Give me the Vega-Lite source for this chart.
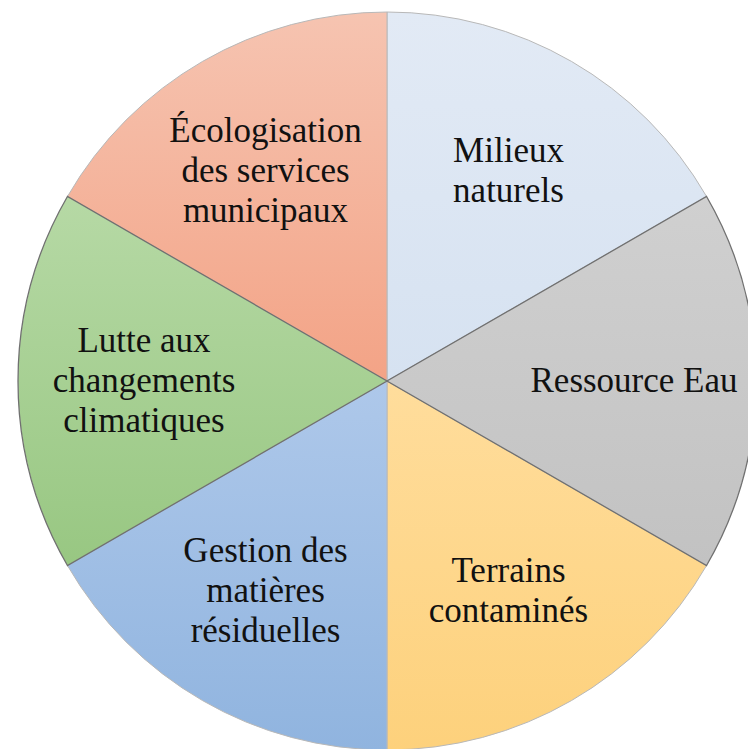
{
  "$schema": "https://vega.github.io/schema/vega-lite/v6.json",
  "width": 774,
  "height": 762,
  "padding": 0,
  "autosize": {"type": "none"},
  "background": "white",
  "config": {"view": {"stroke": null}},
  "data": {
    "values": [
      {"cat": "Milieux naturels", "label": "Milieux\nnaturels", "lines": 2, "value": 1, "order": 1},
      {"cat": "Ressource Eau", "label": "Ressource Eau", "lines": 1, "value": 1, "order": 2},
      {"cat": "Terrains contaminés", "label": "Terrains\ncontaminés", "lines": 2, "value": 1, "order": 3},
      {"cat": "Gestion des matières résiduelles", "label": "Gestion des\nmatières\nrésiduelles", "lines": 3, "value": 1, "order": 4},
      {"cat": "Lutte aux changements climatiques", "label": "Lutte aux\nchangements\nclimatiques", "lines": 3, "value": 1, "order": 5},
      {"cat": "Écologisation des services municipaux", "label": "Écologisation\ndes services\nmunicipaux", "lines": 3, "value": 1, "order": 6}
    ]
  },
  "layer": [
    {
      "transform": [
        {"stack": "value", "groupby": [], "sort": [{"field": "order", "order": "ascending"}], "as": ["v0", "v1"]},
        {"filter": "datum.order == 1"}
      ],
      "mark": {"type": "arc", "outerRadius": 369, "stroke": "#b8b8b8", "strokeWidth": 1,
        "color": {"gradient": "linear", "x1": 0, "y1": 0, "x2": 0, "y2": 1, "stops": [{"offset": 0, "color": "#e2eaf5"}, {"offset": 1, "color": "#d6e2f1"}]}},
      "encoding": {
        "theta": {"field": "v0", "type": "quantitative", "scale": {"domain": [0, 6]}},
        "theta2": {"field": "v1"}
      }
    },
    {
      "transform": [
        {"stack": "value", "groupby": [], "sort": [{"field": "order", "order": "ascending"}], "as": ["v0", "v1"]},
        {"filter": "datum.order == 3"}
      ],
      "mark": {"type": "arc", "outerRadius": 369, "stroke": "#b8b8b8", "strokeWidth": 1,
        "color": {"gradient": "linear", "x1": 0, "y1": 0, "x2": 0, "y2": 1, "stops": [{"offset": 0, "color": "#ffdd9c"}, {"offset": 1, "color": "#fdd17c"}]}},
      "encoding": {
        "theta": {"field": "v0", "type": "quantitative", "scale": {"domain": [0, 6]}},
        "theta2": {"field": "v1"}
      }
    },
    {
      "transform": [
        {"stack": "value", "groupby": [], "sort": [{"field": "order", "order": "ascending"}], "as": ["v0", "v1"]},
        {"filter": "datum.order == 4"}
      ],
      "mark": {"type": "arc", "outerRadius": 369, "stroke": "#b8b8b8", "strokeWidth": 1,
        "color": {"gradient": "linear", "x1": 0, "y1": 0, "x2": 0, "y2": 1, "stops": [{"offset": 0, "color": "#aec8ea"}, {"offset": 1, "color": "#90b4df"}]}},
      "encoding": {
        "theta": {"field": "v0", "type": "quantitative", "scale": {"domain": [0, 6]}},
        "theta2": {"field": "v1"}
      }
    },
    {
      "transform": [
        {"stack": "value", "groupby": [], "sort": [{"field": "order", "order": "ascending"}], "as": ["v0", "v1"]},
        {"filter": "datum.order == 6"}
      ],
      "mark": {"type": "arc", "outerRadius": 369, "stroke": "#b8b8b8", "strokeWidth": 1,
        "color": {"gradient": "linear", "x1": 0, "y1": 0, "x2": 0, "y2": 1, "stops": [{"offset": 0, "color": "#f6c4b1"}, {"offset": 1, "color": "#f3a386"}]}},
      "encoding": {
        "theta": {"field": "v0", "type": "quantitative", "scale": {"domain": [0, 6]}},
        "theta2": {"field": "v1"}
      }
    },
    {
      "transform": [
        {"stack": "value", "groupby": [], "sort": [{"field": "order", "order": "ascending"}], "as": ["v0", "v1"]},
        {"filter": "datum.order == 2"}
      ],
      "mark": {"type": "arc", "outerRadius": 369, "stroke": "#707070", "strokeWidth": 1.3,
        "color": {"gradient": "linear", "x1": 0, "y1": 0, "x2": 0, "y2": 1, "stops": [{"offset": 0, "color": "#d0d0d0"}, {"offset": 1, "color": "#c2c2c2"}]}},
      "encoding": {
        "theta": {"field": "v0", "type": "quantitative", "scale": {"domain": [0, 6]}},
        "theta2": {"field": "v1"}
      }
    },
    {
      "transform": [
        {"stack": "value", "groupby": [], "sort": [{"field": "order", "order": "ascending"}], "as": ["v0", "v1"]},
        {"filter": "datum.order == 5"}
      ],
      "mark": {"type": "arc", "outerRadius": 369, "stroke": "#707070", "strokeWidth": 1.3,
        "color": {"gradient": "linear", "x1": 0, "y1": 0, "x2": 0, "y2": 1, "stops": [{"offset": 0, "color": "#b6d9a5"}, {"offset": 1, "color": "#98c782"}]}},
      "encoding": {
        "theta": {"field": "v0", "type": "quantitative", "scale": {"domain": [0, 6]}},
        "theta2": {"field": "v1"}
      }
    },
    {
      "mark": {"type": "text", "radius": 243, "font": "Liberation Serif", "fontSize": 35, "lineBreak": "\n", "lineHeight": 40, "dy": -40, "color": "#111111", "align": "center", "baseline": "middle"},
      "encoding": {
        "theta": {"field": "value", "type": "quantitative", "stack": true, "scale": {"domain": [0, 6]}},
        "order": {"field": "order", "type": "quantitative"},
        "text": {"condition": {"test": "datum.lines == 3", "field": "label"}, "value": ""}
      }
    },
    {
      "mark": {"type": "text", "radius": 243, "font": "Liberation Serif", "fontSize": 35, "lineBreak": "\n", "lineHeight": 40, "dy": -20, "color": "#111111", "align": "center", "baseline": "middle"},
      "encoding": {
        "theta": {"field": "value", "type": "quantitative", "stack": true, "scale": {"domain": [0, 6]}},
        "order": {"field": "order", "type": "quantitative"},
        "text": {"condition": {"test": "datum.lines == 2", "field": "label"}, "value": ""}
      }
    },
    {
      "mark": {"type": "text", "radius": 247, "font": "Liberation Serif", "fontSize": 35, "lineBreak": "\n", "lineHeight": 40, "color": "#111111", "align": "center", "baseline": "middle"},
      "encoding": {
        "theta": {"field": "value", "type": "quantitative", "stack": true, "scale": {"domain": [0, 6]}},
        "order": {"field": "order", "type": "quantitative"},
        "text": {"condition": {"test": "datum.lines == 1", "field": "label"}, "value": ""}
      }
    }
  ]
}
